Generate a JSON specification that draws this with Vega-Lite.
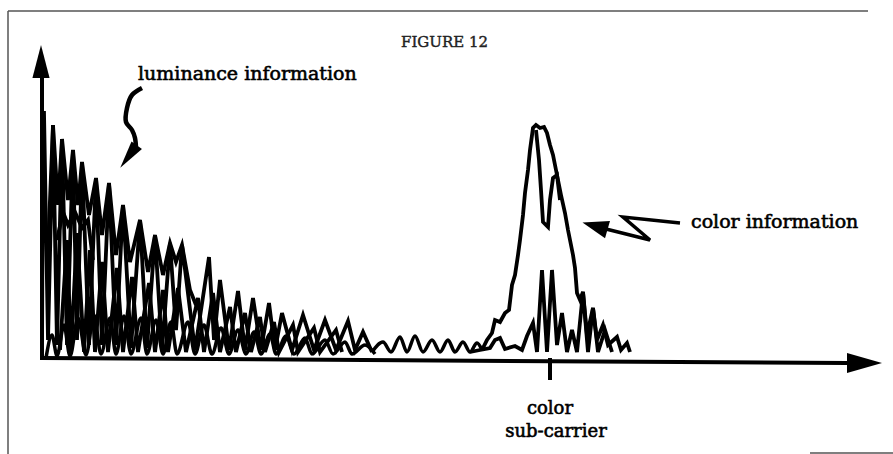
{
  "$schema": "https://vega.github.io/schema/vega-lite/v6.json",
  "width": 893,
  "height": 454,
  "padding": 0,
  "autosize": {"type": "none"},
  "background": "white",
  "config": {"view": {"stroke": null}},
  "datasets": {
    "lin": [
      {"s":"lum","f":0,"amp":0},{"s":"lum","f":1,"amp":245},{"s":"lum","f":2,"amp":245},{"s":"lum","f":6,"amp":18},{"s":"lum","f":11,"amp":233},{"s":"lum","f":15,"amp":13},{"s":"lum","f":20,"amp":219},{"s":"lum","f":25,"amp":13},{"s":"lum","f":31,"amp":208},{"s":"lum","f":35,"amp":18},{"s":"lum","f":40,"amp":196},{"s":"lum","f":47,"amp":13},{"s":"lum","f":54,"amp":180},{"s":"lum","f":60,"amp":13},{"s":"lum","f":67,"amp":175},{"s":"lum","f":74,"amp":13},{"s":"lum","f":81,"amp":153},{"s":"lum","f":89,"amp":10},{"s":"lum","f":98,"amp":138},{"s":"lum","f":105,"amp":10},{"s":"lum","f":113,"amp":123},{"s":"lum","f":120,"amp":8},{"s":"lum","f":128,"amp":115},{"s":"lum","f":134,"amp":28},{"s":"lum","f":140,"amp":113},{"s":"lum","f":153,"amp":8},{"s":"lum","f":167,"amp":101},{"s":"lum","f":172,"amp":18},{"s":"lum","f":178,"amp":78},{"s":"lum","f":187,"amp":8},{"s":"lum","f":196,"amp":67},{"s":"lum","f":203,"amp":8},{"s":"lum","f":211,"amp":60},{"s":"lum","f":219,"amp":8},{"s":"lum","f":227,"amp":55},{"s":"lum","f":233,"amp":8},{"s":"lum","f":240,"amp":45},{"s":"lum","f":250,"amp":8},{"s":"lum","f":261,"amp":43},{"s":"lum","f":272,"amp":8},{"s":"lum","f":283,"amp":38},{"s":"lum","f":294,"amp":8},{"s":"lum","f":306,"amp":37},{"s":"lum","f":313,"amp":8},{"s":"lum","f":321,"amp":26},{"s":"lum","f":330,"amp":6},
      {"s":"mid","f":6,"amp":108},{"s":"mid","f":11,"amp":233},{"s":"mid","f":16,"amp":153},{"s":"mid","f":20,"amp":219},{"s":"mid","f":26,"amp":158},{"s":"mid","f":31,"amp":208},{"s":"mid","f":36,"amp":153},{"s":"mid","f":40,"amp":196},{"s":"mid","f":47,"amp":143},{"s":"mid","f":54,"amp":180},{"s":"mid","f":60,"amp":123},{"s":"mid","f":67,"amp":175},{"s":"mid","f":74,"amp":103},{"s":"mid","f":81,"amp":153},{"s":"mid","f":88,"amp":96},{"s":"mid","f":98,"amp":138},{"s":"mid","f":106,"amp":86},{"s":"mid","f":113,"amp":123},{"s":"mid","f":121,"amp":83},{"s":"mid","f":128,"amp":115},{"s":"mid","f":134,"amp":96},{"s":"mid","f":140,"amp":113},{"s":"mid","f":148,"amp":68},{"s":"mid","f":154,"amp":53},
      {"s":"mid2","f":15,"amp":118},{"s":"mid2","f":21,"amp":146},{"s":"mid2","f":26,"amp":133},{"s":"mid2","f":33,"amp":146},{"s":"mid2","f":40,"amp":130},{"s":"mid2","f":46,"amp":138},{"s":"mid2","f":51,"amp":98},
      {"s":"sec","f":18,"amp":8},{"s":"sec","f":25,"amp":118},{"s":"sec","f":29,"amp":8},{"s":"sec","f":35,"amp":125},{"s":"sec","f":42,"amp":6},{"s":"sec","f":48,"amp":108},{"s":"sec","f":53,"amp":6},{"s":"sec","f":60,"amp":96},{"s":"sec","f":66,"amp":6},{"s":"sec","f":75,"amp":90},{"s":"sec","f":81,"amp":6},{"s":"sec","f":90,"amp":81},{"s":"sec","f":96,"amp":6},{"s":"sec","f":107,"amp":75},{"s":"sec","f":113,"amp":6},{"s":"sec","f":121,"amp":68},{"s":"sec","f":126,"amp":6},{"s":"sec","f":136,"amp":70},{"s":"sec","f":144,"amp":6},{"s":"sec","f":156,"amp":60},{"s":"sec","f":162,"amp":6},{"s":"sec","f":171,"amp":65},{"s":"sec","f":178,"amp":6},{"s":"sec","f":188,"amp":51},{"s":"sec","f":194,"amp":6},{"s":"sec","f":203,"amp":45},{"s":"sec","f":209,"amp":6},{"s":"sec","f":218,"amp":41},{"s":"sec","f":223,"amp":6},{"s":"sec","f":232,"amp":36},{"s":"sec","f":237,"amp":6},{"s":"sec","f":251,"amp":33},{"s":"sec","f":256,"amp":6},{"s":"sec","f":272,"amp":30},{"s":"sec","f":278,"amp":6},{"s":"sec","f":294,"amp":28},{"s":"sec","f":300,"amp":6},
      {"s":"chroma","f":440,"amp":8},{"s":"chroma","f":445,"amp":18},{"s":"chroma","f":450,"amp":25},{"s":"chroma","f":453,"amp":38},{"s":"chroma","f":458,"amp":36},{"s":"chroma","f":463,"amp":45},{"s":"chroma","f":467,"amp":48},{"s":"chroma","f":470,"amp":73},{"s":"chroma","f":473,"amp":83},{"s":"chroma","f":476,"amp":103},{"s":"chroma","f":478,"amp":118},{"s":"chroma","f":481,"amp":143},{"s":"chroma","f":483,"amp":165},{"s":"chroma","f":486,"amp":188},{"s":"chroma","f":488,"amp":208},{"s":"chroma","f":491,"amp":230},{"s":"chroma","f":494,"amp":233},{"s":"chroma","f":498,"amp":230},{"s":"chroma","f":502,"amp":231},{"s":"chroma","f":505,"amp":225},{"s":"chroma","f":508,"amp":213},{"s":"chroma","f":511,"amp":203},{"s":"chroma","f":513,"amp":193},{"s":"chroma","f":516,"amp":178},{"s":"chroma","f":519,"amp":163},{"s":"chroma","f":523,"amp":145},{"s":"chroma","f":526,"amp":128},{"s":"chroma","f":528,"amp":118},{"s":"chroma","f":531,"amp":103},{"s":"chroma","f":533,"amp":90},{"s":"chroma","f":535,"amp":65},{"s":"chroma","f":538,"amp":58},{"s":"chroma","f":541,"amp":66},{"s":"chroma","f":545,"amp":23},{"s":"chroma","f":551,"amp":50},{"s":"chroma","f":555,"amp":18},{"s":"chroma","f":561,"amp":33},{"s":"chroma","f":566,"amp":13},{"s":"chroma","f":575,"amp":21},{"s":"chroma","f":579,"amp":8},{"s":"chroma","f":585,"amp":15},{"s":"chroma","f":588,"amp":6},
      {"s":"low","f":428,"amp":6},{"s":"low","f":438,"amp":8},{"s":"low","f":448,"amp":10},{"s":"low","f":453,"amp":18},{"s":"low","f":458,"amp":20},{"s":"low","f":463,"amp":9},{"s":"low","f":473,"amp":12},{"s":"low","f":480,"amp":8},{"s":"low","f":485,"amp":22},{"s":"low","f":491,"amp":35},{"s":"low","f":495,"amp":6},{"s":"low","f":500,"amp":88},{"s":"low","f":505,"amp":6},{"s":"low","f":510,"amp":88},{"s":"low","f":515,"amp":13},{"s":"low","f":520,"amp":45},{"s":"low","f":525,"amp":6},{"s":"low","f":530,"amp":28},{"s":"low","f":535,"amp":6},{"s":"low","f":541,"amp":66},{"s":"low","f":546,"amp":6},{"s":"low","f":551,"amp":50},{"s":"low","f":556,"amp":6},{"s":"low","f":563,"amp":28},{"s":"low","f":570,"amp":6},
      {"s":"inner","f":494,"amp":228},{"s":"inner","f":497,"amp":198},{"s":"inner","f":499,"amp":168},{"s":"inner","f":501,"amp":136},{"s":"inner","f":506,"amp":131},{"s":"inner","f":508,"amp":158},{"s":"inner","f":511,"amp":180},{"s":"inner","f":515,"amp":183},{"s":"inner","f":518,"amp":158}
    ],
    "smooth": [
      {"s":"hump","f":330,"amp":6},{"s":"hump","f":341,"amp":16},{"s":"hump","f":349,"amp":6},{"s":"hump","f":358,"amp":21},{"s":"hump","f":365,"amp":6},{"s":"hump","f":373,"amp":22},{"s":"hump","f":381,"amp":6},{"s":"hump","f":390,"amp":18},{"s":"hump","f":398,"amp":6},{"s":"hump","f":406,"amp":18},{"s":"hump","f":413,"amp":6},{"s":"hump","f":421,"amp":16},{"s":"hump","f":428,"amp":6},{"s":"hump","f":435,"amp":15},{"s":"hump","f":440,"amp":8},
      {"s":"arch","f":4,"amp":0},{"s":"arch","f":10,"amp":23},{"s":"arch","f":15,"amp":2},{"s":"arch","f":22,"amp":33},{"s":"arch","f":28,"amp":2},{"s":"arch","f":36,"amp":40},{"s":"arch","f":44,"amp":3},{"s":"arch","f":52,"amp":43},{"s":"arch","f":59,"amp":4},{"s":"arch","f":68,"amp":40},{"s":"arch","f":74,"amp":4},{"s":"arch","f":82,"amp":42},{"s":"arch","f":89,"amp":4},{"s":"arch","f":99,"amp":40},{"s":"arch","f":105,"amp":4},{"s":"arch","f":114,"amp":38},{"s":"arch","f":121,"amp":4},{"s":"arch","f":129,"amp":36},{"s":"arch","f":135,"amp":4},{"s":"arch","f":146,"amp":36},{"s":"arch","f":153,"amp":4},{"s":"arch","f":162,"amp":33},{"s":"arch","f":170,"amp":4},{"s":"arch","f":179,"amp":30},{"s":"arch","f":187,"amp":4},{"s":"arch","f":196,"amp":28},{"s":"arch","f":204,"amp":4},{"s":"arch","f":212,"amp":26},{"s":"arch","f":219,"amp":4},{"s":"arch","f":228,"amp":24},{"s":"arch","f":234,"amp":4},{"s":"arch","f":244,"amp":22},{"s":"arch","f":252,"amp":4},{"s":"arch","f":263,"amp":20},{"s":"arch","f":270,"amp":4},{"s":"arch","f":283,"amp":18},{"s":"arch","f":291,"amp":4},{"s":"arch","f":303,"amp":16},{"s":"arch","f":310,"amp":4},{"s":"arch","f":323,"amp":13},{"s":"arch","f":333,"amp":4}
    ],
    "axes": [
      {"s":"y","f":0,"amp":-2},{"s":"y","f":0,"amp":280},
      {"s":"x","f":0,"amp":0},{"s":"x","f":805,"amp":-5},
      {"s":"tick","f":508,"amp":0},{"s":"tick","f":508,"amp":-22}
    ],
    "frame": [
      {"s":"top","f":-34,"amp":347},{"s":"top","f":826,"amp":347},
      {"s":"left","f":-34,"amp":347},{"s":"left","f":-34,"amp":-96},
      {"s":"br","f":768,"amp":-95},{"s":"br","f":851,"amp":-95}
    ]
  },
  "encoding": {
    "x": {"field": "f", "type": "quantitative", "scale": {"domain": [-42, 851], "nice": false, "zero": false}, "axis": null},
    "y": {"field": "amp", "type": "quantitative", "scale": {"domain": [-96, 358], "nice": false, "zero": false}, "axis": null}
  },
  "layer": [
    {"data": {"name": "frame"}, "mark": {"type": "line", "color": "#555555", "strokeWidth": 1.5}, "encoding": {"detail": {"field": "s"}}},
    {"data": {"name": "smooth"}, "mark": {"type": "line", "color": "black", "strokeWidth": 3.5, "interpolate": "monotone"}, "encoding": {"detail": {"field": "s"}}},
    {"data": {"name": "lin"}, "mark": {"type": "line", "color": "black", "strokeWidth": 3.8}, "encoding": {"detail": {"field": "s"}}},
    {"data": {"name": "axes"}, "mark": {"type": "line", "color": "black", "strokeWidth": 4}, "encoding": {"detail": {"field": "s"}}},
    {"data": {"values": [{"k":0,"f":100,"amp":270},{"k":1,"f":90,"amp":263},{"k":2,"f":85,"amp":250},{"k":3,"f":84,"amp":236},{"k":4,"f":90,"amp":228},{"k":5,"f":93,"amp":220},{"k":6,"f":94,"amp":210}]},
     "mark": {"type": "line", "color": "black", "strokeWidth": 4.5, "interpolate": "catmull-rom"}, "encoding": {"order": {"field": "k"}}},
    {"data": {"values": [{"k":0,"f":564,"amp":129},{"k":1,"f":608,"amp":118},{"k":2,"f":581,"amp":141},{"k":3,"f":638,"amp":135}]},
     "mark": {"type": "line", "color": "black", "strokeWidth": 3.5}, "encoding": {"order": {"field": "k"}}},
    {"data": {"values": [{"f": -1, "amp": 296.5}]}, "mark": {"type": "point", "shape": "M0,-1L0.52,1L-0.52,1Z", "size": 1089, "filled": true, "color": "black", "opacity": 1}},
    {"data": {"values": [{"f": 822.5, "amp": -5}]}, "mark": {"type": "point", "shape": "M0,-1L0.57,1L-0.57,1Z", "size": 1225, "angle": 90, "filled": true, "color": "black", "opacity": 1}},
    {"data": {"values": [{"f": 86.5, "amp": 201.5}]}, "mark": {"type": "point", "shape": "M0,-1L0.46,1L-0.46,1Z", "size": 784, "angle": 216, "filled": true, "color": "black", "opacity": 1}},
    {"data": {"values": [{"f": 553, "amp": 132}]}, "mark": {"type": "point", "shape": "M0,-1L0.69,1L-0.69,1Z", "size": 676, "angle": 286, "filled": true, "color": "black", "opacity": 1}},
    {"data": {"values": [{"f": 402.5, "amp": 311, "label": "FIGURE 12"}]}, "mark": {"type": "text", "font": "DejaVu Serif", "fontSize": 15, "align": "center", "baseline": "alphabetic", "color": "#222222", "stroke": "#222222", "strokeWidth": 0.4}, "encoding": {"text": {"field": "label"}}},
    {"data": {"values": [{"f": 96, "amp": 278, "label": "luminance information"}, {"f": 649, "amp": 130, "label": "color information"}]}, "mark": {"type": "text", "font": "DejaVu Serif", "fontSize": 19, "align": "left", "baseline": "alphabetic", "color": "black", "stroke": "black", "strokeWidth": 0.6}, "encoding": {"text": {"field": "label"}}},
    {"data": {"values": [{"f": 508, "amp": -56, "label": "color"}, {"f": 514, "amp": -79, "label": "sub-carrier"}]}, "mark": {"type": "text", "font": "DejaVu Serif", "fontSize": 18, "align": "center", "baseline": "alphabetic", "color": "black", "stroke": "black", "strokeWidth": 0.6}, "encoding": {"text": {"field": "label"}}}
  ]
}
